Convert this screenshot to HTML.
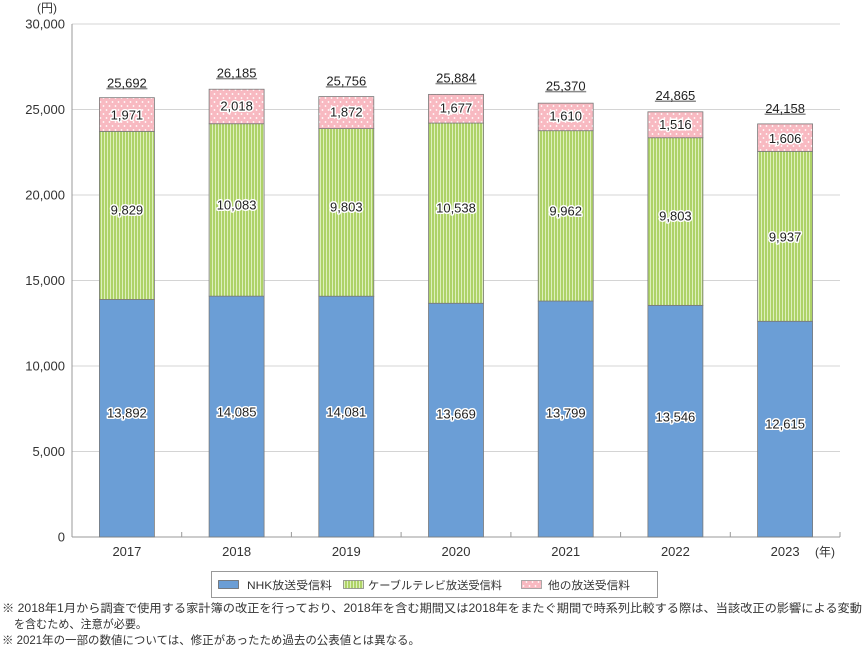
<!DOCTYPE html>
<html><head><meta charset="utf-8"><style>
html,body{margin:0;padding:0;background:#fff;}
svg{display:block;}
text{font-family:"Liberation Sans","Noto Sans CJK JP",sans-serif;fill:#333;}
.v{font-size:13px;text-anchor:middle;stroke:#fff;stroke-width:3px;paint-order:stroke;stroke-linejoin:round;fill:#222;}
.t{font-size:13px;text-anchor:middle;fill:#222;}
.ax{font-size:13px;text-anchor:end;}
.xl{font-size:13px;text-anchor:middle;}
.lg{font-size:11px;}
.nt{font-size:11.5px;}
</style></head><body>
<svg width="865" height="652" viewBox="0 0 865 652" xmlns="http://www.w3.org/2000/svg">
<defs>
<pattern id="grn" width="3" height="6" patternUnits="userSpaceOnUse">
<rect width="3" height="6" fill="#aed268"/>
<rect x="2" width="1" height="6" fill="#def0bd"/>
</pattern>
<pattern id="pnk" width="6" height="8" patternUnits="userSpaceOnUse">
<rect width="6" height="8" fill="#f8b9c1"/>
<circle cx="1.5" cy="2" r="0.9" fill="#fff"/>
<circle cx="4.5" cy="6" r="0.9" fill="#fff"/>
</pattern>
</defs>
<rect width="865" height="652" fill="#fff"/>
<!-- gridlines -->
<g stroke="#d4d4d4" stroke-width="1">
<line x1="72" y1="24" x2="840" y2="24"/>
<line x1="72" y1="109.5" x2="840" y2="109.5"/>
<line x1="72" y1="195" x2="840" y2="195"/>
<line x1="72" y1="280.5" x2="840" y2="280.5"/>
<line x1="72" y1="366" x2="840" y2="366"/>
<line x1="72" y1="451.5" x2="840" y2="451.5"/>
</g>
<!-- axes -->
<g stroke="#999" stroke-width="1">
<line x1="72" y1="24" x2="72" y2="537"/>
<line x1="72" y1="537" x2="840" y2="537"/>
<line x1="181.7" y1="532" x2="181.7" y2="537"/>
<line x1="291.4" y1="532" x2="291.4" y2="537"/>
<line x1="401.1" y1="532" x2="401.1" y2="537"/>
<line x1="510.9" y1="532" x2="510.9" y2="537"/>
<line x1="620.6" y1="532" x2="620.6" y2="537"/>
<line x1="730.3" y1="532" x2="730.3" y2="537"/>
<line x1="840" y1="532" x2="840" y2="537"/>
</g>
<!-- y labels -->
<text class="ax" x="65" y="28.7">30,000</text>
<text class="ax" x="65" y="114.2">25,000</text>
<text class="ax" x="65" y="199.7">20,000</text>
<text class="ax" x="65" y="285.2">15,000</text>
<text class="ax" x="65" y="370.7">10,000</text>
<text class="ax" x="65" y="456.2">5,000</text>
<text class="ax" x="65" y="541.7">0</text>
<text x="37" y="12" style="font-size:12px">(円)</text>
<!-- bars -->
<g stroke="#7a7a7a" stroke-width="0.8">
<!-- 2017 -->
<rect x="99.4" y="299.45" width="55" height="237.55" fill="#6b9ed6"/>
<rect x="99.4" y="131.37" width="55" height="168.08" fill="url(#grn)"/>
<rect x="99.4" y="97.67" width="55" height="33.7" fill="url(#pnk)"/>
<!-- 2018 -->
<rect x="209.1" y="296.15" width="55" height="240.85" fill="#6b9ed6"/>
<rect x="209.1" y="123.73" width="55" height="172.42" fill="url(#grn)"/>
<rect x="209.1" y="89.22" width="55" height="34.51" fill="url(#pnk)"/>
<!-- 2019 -->
<rect x="318.8" y="296.21" width="55" height="240.79" fill="#6b9ed6"/>
<rect x="318.8" y="128.58" width="55" height="167.63" fill="url(#grn)"/>
<rect x="318.8" y="96.57" width="55" height="32.01" fill="url(#pnk)"/>
<!-- 2020 -->
<rect x="428.5" y="303.26" width="55" height="233.74" fill="#6b9ed6"/>
<rect x="428.5" y="123.06" width="55" height="180.2" fill="url(#grn)"/>
<rect x="428.5" y="94.38" width="55" height="28.68" fill="url(#pnk)"/>
<!-- 2021 -->
<rect x="538.2" y="301.04" width="55" height="235.96" fill="#6b9ed6"/>
<rect x="538.2" y="130.69" width="55" height="170.35" fill="url(#grn)"/>
<rect x="538.2" y="103.16" width="55" height="27.53" fill="url(#pnk)"/>
<!-- 2022 -->
<rect x="647.9" y="305.36" width="55" height="231.64" fill="#6b9ed6"/>
<rect x="647.9" y="137.73" width="55" height="167.63" fill="url(#grn)"/>
<rect x="647.9" y="111.81" width="55" height="25.92" fill="url(#pnk)"/>
<!-- 2023 -->
<rect x="757.6" y="321.28" width="55" height="215.72" fill="#6b9ed6"/>
<rect x="757.6" y="151.36" width="55" height="169.92" fill="url(#grn)"/>
<rect x="757.6" y="123.9" width="55" height="27.46" fill="url(#pnk)"/>
</g>
<!-- value labels -->
<text class="v" x="126.9" y="417.7">13,892</text>
<text class="v" x="126.9" y="214.7">9,829</text>
<text class="v" x="126.9" y="119.5">1,971</text>
<text class="v" x="236.6" y="416.4">14,085</text>
<text class="v" x="236.6" y="209.7">10,083</text>
<text class="v" x="236.6" y="110.4">2,018</text>
<text class="v" x="346.3" y="416.4">14,081</text>
<text class="v" x="346.3" y="211.4">9,803</text>
<text class="v" x="346.3" y="116.7">1,872</text>
<text class="v" x="456" y="418.7">13,669</text>
<text class="v" x="456" y="212.4">10,538</text>
<text class="v" x="456" y="112.7">1,677</text>
<text class="v" x="565.7" y="417.7">13,799</text>
<text class="v" x="565.7" y="215.7">9,962</text>
<text class="v" x="565.7" y="120.4">1,610</text>
<text class="v" x="675.4" y="421.7">13,546</text>
<text class="v" x="675.4" y="220.7">9,803</text>
<text class="v" x="675.4" y="129.2">1,516</text>
<text class="v" x="785.1" y="428.7">12,615</text>
<text class="v" x="785.1" y="241.7">9,937</text>
<text class="v" x="785.1" y="143.2">1,606</text>
<!-- totals -->
<g stroke="#8a8a8a" stroke-width="1.5">
<line x1="106.4" y1="88.6" x2="147.4" y2="88.6"/>
<line x1="216.1" y1="78.6" x2="257.1" y2="78.6"/>
<line x1="325.8" y1="86.9" x2="366.8" y2="86.9"/>
<line x1="435.5" y1="83.6" x2="476.5" y2="83.6"/>
<line x1="545.2" y1="91.6" x2="586.2" y2="91.6"/>
<line x1="654.9" y1="101.2" x2="695.9" y2="101.2"/>
<line x1="764.6" y1="114.2" x2="805.6" y2="114.2"/>
</g>
<text class="t" x="126.9" y="87.4">25,692</text>
<text class="t" x="236.6" y="77.4">26,185</text>
<text class="t" x="346.3" y="85.7">25,756</text>
<text class="t" x="456" y="82.4">25,884</text>
<text class="t" x="565.7" y="90.4">25,370</text>
<text class="t" x="675.4" y="100">24,865</text>
<text class="t" x="785.1" y="113">24,158</text>
<!-- x labels -->
<text class="xl" x="126.9" y="556">2017</text>
<text class="xl" x="236.6" y="556">2018</text>
<text class="xl" x="346.3" y="556">2019</text>
<text class="xl" x="456" y="556">2020</text>
<text class="xl" x="565.7" y="556">2021</text>
<text class="xl" x="675.4" y="556">2022</text>
<text class="xl" x="785.1" y="556">2023</text>
<text x="815" y="556" style="font-size:12px">(年)</text>
<!-- legend -->
<rect x="211.5" y="571.5" width="446" height="26" fill="#fff" stroke="#999" stroke-width="1"/>
<rect x="218.5" y="580.5" width="20" height="8" fill="#6b9ed6" stroke="#666" stroke-width="0.8"/>
<text class="lg" x="247" y="589" textLength="85" lengthAdjust="spacingAndGlyphs">NHK放送受信料</text>
<rect x="343.5" y="580.5" width="20" height="8" fill="url(#grn)" stroke="#888" stroke-width="0.8"/>
<text class="lg" x="368" y="589" textLength="134" lengthAdjust="spacingAndGlyphs">ケーブルテレビ放送受信料</text>
<rect x="521.5" y="580.5" width="20" height="8" fill="url(#pnk)" stroke="#999" stroke-width="0.8"/>
<text class="lg" x="548" y="589" textLength="82" lengthAdjust="spacingAndGlyphs">他の放送受信料</text>
<!-- notes -->
<text class="nt" x="2" y="612" textLength="860" lengthAdjust="spacingAndGlyphs">※ 2018年1月から調査で使用する家計簿の改正を行っており、2018年を含む期間又は2018年をまたぐ期間で時系列比較する際は、当該改正の影響による変動</text>
<text class="nt" x="14" y="628" textLength="133" lengthAdjust="spacingAndGlyphs">を含むため、注意が必要。</text>
<text class="nt" x="2" y="644" textLength="418" lengthAdjust="spacingAndGlyphs">※ 2021年の一部の数値については、修正があったため過去の公表値とは異なる。</text>
</svg>
</body></html>
